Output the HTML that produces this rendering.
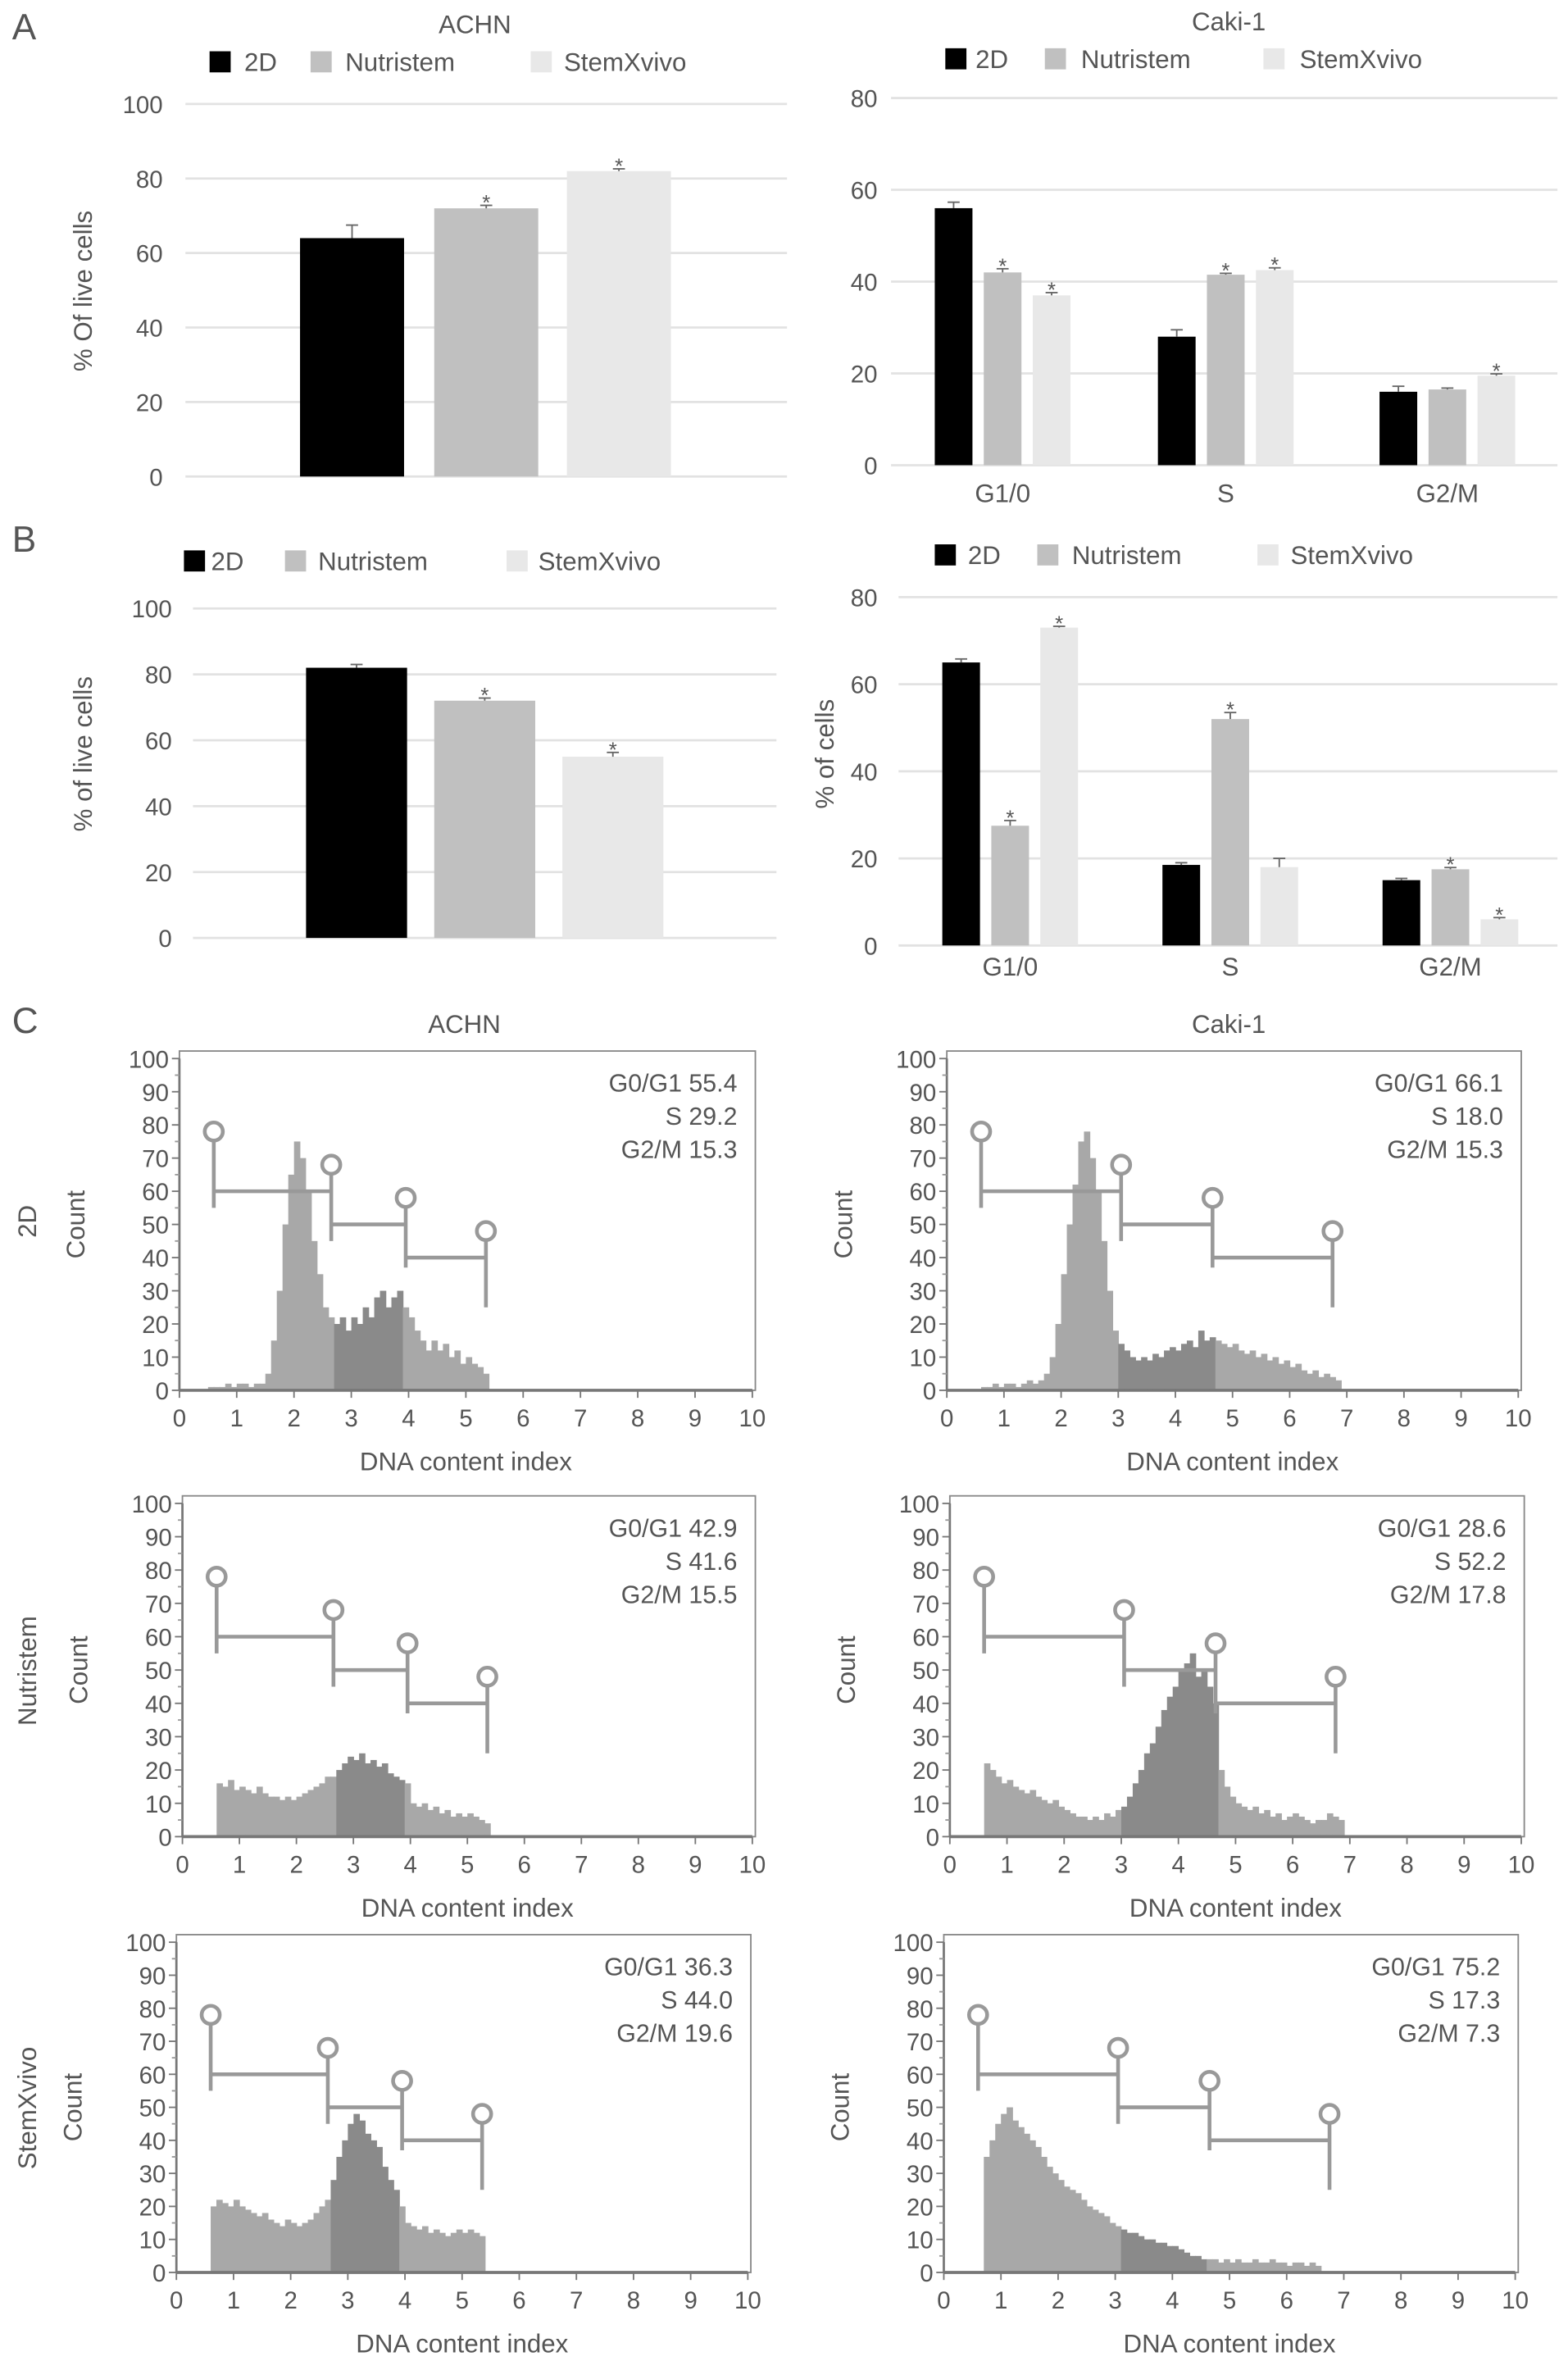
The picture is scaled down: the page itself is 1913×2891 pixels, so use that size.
<!DOCTYPE html>
<html><head><meta charset="utf-8"><style>
body{margin:0;background:#fff}
svg{display:block}
text{font-family:"Liberation Sans",sans-serif;fill:#555}
</style></head><body>
<svg id="fig" xmlns="http://www.w3.org/2000/svg" width="1913" height="2891" viewBox="0 0 1040 1571.7" preserveAspectRatio="none"></svg>
<script>
// ---------- Bar chart data ----------
const seriesNames = ["2D","Nutristem","StemXvivo"];
const phaseCats = ["G1/0","S","G2/M"];
const aAchnVals = [64,72,82];
const aAchnErr = [3.5,0.8,0.6];
const aAchnStar = [false,true,true];
const aCaki2D = [56,28,16];
const aCakiNut = [42,41.5,16.5];
const aCakiStem = [37,42.5,19.5];
const aCakiErr2D = [1.3,1.5,1.2];
const aCakiErrNut = [0.8,0.3,0.3];
const aCakiErrStem = [0.6,0.5,0.4];
const aCakiStarNut = [true,true,false];
const aCakiStarStem = [true,true,true];
const bAchnVals = [82,72,55];
const bAchnErr = [1,0.8,1.3];
const bAchnStar = [false,true,true];
const bCaki2D = [65,18.5,15];
const bCakiNut = [27.5,52,17.5];
const bCakiStem = [73,18,6];
const bCakiErr2D = [0.8,0.5,0.4];
const bCakiErrNut = [1.2,1.5,0.4];
const bCakiErrStem = [0.3,2,0.4];
const bCakiStarNut = [true,true,true];
const bCakiStarStem = [true,false,true];
const ticks100 = [0,20,40,60,80,100];
const ticks80 = [0,20,40,60,80];
// ---------- Histogram data (bin width 0.1, start index) ----------
const hAchn2DStart = 0.5;
const hAchn2D = [1,1,1,2,1,2,2,1,2,2,5,15,30,50,65,75,70,60,45,35,25,22,20,22,18,22,20,25,22,28,30,25,28,30,25,22,18,15,12,15,12,14,10,12,8,10,8,7,5];
const hCaki2DStart = 0.6;
const hCaki2D = [1,1,2,1,2,2,1,2,3,2,3,5,10,20,35,50,62,75,78,70,60,45,30,18,14,12,10,9,10,9,11,10,12,13,12,14,15,13,18,15,16,15,14,13,14,12,11,12,10,11,9,10,8,9,7,8,6,5,6,4,5,4,3];
const hAchnNutStart = 0.6;
const hAchnNut = [16,15,17,14,15,14,13,15,13,12,12,11,12,11,12,13,14,15,16,18,18,20,22,24,23,25,22,23,21,22,19,18,17,16,10,9,10,8,9,7,8,6,7,6,7,6,5,4];
const hCakiNutStart = 0.6;
const hCakiNut = [22,20,18,16,17,15,14,13,14,12,11,10,11,9,8,7,6,6,5,6,5,7,6,8,9,12,16,20,25,28,33,38,42,45,50,52,55,48,50,45,40,20,15,12,10,9,8,9,7,8,6,7,5,6,7,6,5,4,5,5,7,6,5];
const hAchnStemStart = 0.6;
const hAchnStem = [20,22,21,20,22,20,19,18,17,18,16,15,14,16,15,14,15,16,18,20,22,28,35,40,45,48,46,42,40,38,32,28,25,20,15,14,13,14,12,13,12,11,12,13,12,13,12,11];
const hCakiStemStart = 0.7;
const hCakiStem = [35,40,45,48,50,46,44,42,40,38,35,32,30,28,26,25,24,22,20,19,18,17,15,14,13,12,12,11,10,10,9,9,8,8,7,6,5,5,4,4,4,3,4,3,4,3,3,4,3,3,4,3,3,2,3,3,2,3,2];
const gatesAchn = [0.6,2.65,3.95,5.35];
const gatesCaki = [0.6,3.05,4.65,6.75];
const statsList = [["G0/G1 55.4","S 29.2","G2/M 15.3"],["G0/G1 66.1","S 18.0","G2/M 15.3"],["G0/G1 42.9","S 41.6","G2/M 15.5"],["G0/G1 28.6","S 52.2","G2/M 17.8"],["G0/G1 36.3","S 44.0","G2/M 19.6"],["G0/G1 75.2","S 17.3","G2/M 7.3"]];

const NS="http://www.w3.org/2000/svg";
const svg=document.getElementById('fig');
function el(tag,attrs,parent,txt){const e=document.createElementNS(NS,tag);for(const k in attrs)e.setAttribute(k,attrs[k]);if(txt!==undefined)e.textContent=txt;(parent||svg).appendChild(e);return e;}
const COLORS=["#000","#c0c0c0","#e8e8e8"];

function legend(y,pos,g){
  pos.forEach((p,i)=>{
    const r=el('rect',{x:p[0],y:y-8,width:14,height:14,fill:COLORS[i]},g);
    
    
    const t=el('text',{x:p[1],y:y+5,'font-size':17},g,seriesNames[i]);
    
    
  });
}
function yAxis(g,x0,x1,y0,y1,max,ticks,labX){
  const sy=v=>y0-(v/max)*(y0-y1);
  ticks.forEach(t=>{
    const l=el('line',{x1:x0,x2:x1,y1:sy(t),y2:sy(t),stroke:"#e2e2e2",'stroke-width':1.5},g);
     
    const tx=el('text',{x:labX,y:sy(t)+6,'font-size':16,'text-anchor':'end'},g,t);
     
  });
  return sy;
}
function bar(g,x,w,v,err,star,sy,col,name){
  const r=el('rect',{x:x,y:sy(v),width:w,height:sy(0)-sy(v),fill:col},g);
   
  const cx=x+w/2, ye=sy(v+err);
  el('line',{x1:cx,x2:cx,y1:sy(v),y2:ye,stroke:"#666"},g);
  el('line',{x1:cx-4,x2:cx+4,y1:ye,y2:ye,stroke:"#666"},g);
  if(star){const s=el('text',{x:cx,y:ye+3,'font-size':14,'text-anchor':'middle'},g,'*');
     }
}
function viabilityChart(name,vals,errs,stars,x0,x1,y0,y1,barX,barW,labX){
  const g=el('g',{});
  const sy=yAxis(g,x0,x1,y0,y1,100,ticks100,labX);
  vals.forEach((v,i)=>bar(g,barX[i],barW,v,errs[i],stars[i],sy,COLORS[i],'bar-'+seriesNames[i].toLowerCase()));
  return g;
}
function cycleChart(name,s2d,sn,ss,e2d,en,es,stn,sts,x0,x1,y0,y1,groupX,bw,gap,labX,catY){
  const g=el('g',{});
  const sy=yAxis(g,x0,x1,y0,y1,80,ticks80,labX);
  phaseCats.forEach((c,i)=>{
    const gx=groupX[i];
    bar(g,gx,bw,s2d[i],e2d[i],false,sy,COLORS[0],'bar-2d-'+c);
    bar(g,gx+gap,bw,sn[i],en[i],stn[i],sy,COLORS[1],'bar-nutristem-'+c);
    bar(g,gx+2*gap,bw,ss[i],es[i],sts[i],sy,COLORS[2],'bar-stemxvivo-'+c);
    const t=el('text',{x:gx+gap+bw/2,y:catY,'font-size':17,'text-anchor':'middle'},g,c);
    
  });
  return g;
}
// Panel labels
[['A',8,26],['B',8,366],['C',8,685]].forEach(p=>{const t=el('text',{x:p[1],y:p[2],'font-size':24},svg,p[0]);});

// Panel A
let t=el('text',{x:315,y:22,'font-size':17,'text-anchor':'middle'},svg,'ACHN');
t=el('text',{x:815,y:20,'font-size':17,'text-anchor':'middle'},svg,'Caki-1');
let lg=el('g',{});
legend(42,[[139,162],[206,229],[352,374]],lg);
lg=el('g',{});
legend(40,[[627,647],[693,717],[838,862]],lg);
viabilityChart('chart-a-achn',aAchnVals,aAchnErr,aAchnStar,123,522,316,69,[199,288,376],69,108);
t=el('text',{x:0,y:0,'font-size':17,'text-anchor':'middle',transform:'translate(61,193) rotate(-90)'},svg,'% Of live cells');
cycleChart('chart-a-caki',aCaki2D,aCakiNut,aCakiStem,aCakiErr2D,aCakiErrNut,aCakiErrStem,aCakiStarNut,aCakiStarStem,591,1033,308.5,65,[620,768,915],25,32.5,582,333);

// Panel B
lg=el('g',{});
legend(373,[[122,140],[189,211],[336,357]],lg);
lg=el('g',{});
legend(369,[[620,642],[688,711],[834,856]],lg);
viabilityChart('chart-b-achn',bAchnVals,bAchnErr,bAchnStar,128,515,622,403.5,[203,288,373],67,114);
t=el('text',{x:0,y:0,'font-size':17,'text-anchor':'middle',transform:'translate(61,500) rotate(-90)'},svg,'% of live cells');
cycleChart('chart-b-caki',bCaki2D,bCakiNut,bCakiStem,bCakiErr2D,bCakiErrNut,bCakiErrStem,bCakiStarNut,bCakiStarStem,596,1033,627,396,[625,771,917],25,32.5,582,647);
t=el('text',{x:0,y:0,'font-size':17,'text-anchor':'middle',transform:'translate(553,500) rotate(-90)'},svg,'% of cells');

// Panel C
t=el('text',{x:308,y:685,'font-size':17,'text-anchor':'middle'},svg,'ACHN');
t=el('text',{x:815,y:685,'font-size':17,'text-anchor':'middle'},svg,'Caki-1');
const rowNames=['2D','Nutristem','StemXvivo'];
const rowCenters=[810,1108,1398];
rowNames.forEach((r,i)=>{const tt=el('text',{x:0,y:0,'font-size':17,'text-anchor':'middle',transform:`translate(24,${rowCenters[i]}) rotate(-90)`},svg,r);});

function histogram(name,data,start,gates,stats,xa,xb,ya,yb){
  const g=el('g',{});
  const sx=v=>xa+v/10*(xb-xa), sy=v=>ya-v/100*(ya-yb);
  el('rect',{x:xa,y:yb-5,width:xb-xa+2,height:ya-yb+5,fill:'none',stroke:'#888','stroke-width':1},g);
  // bars
  data.forEach((v,i)=>{
    const x=start+i*0.1;
    const inS = x+0.05>gates[1] && x+0.05<gates[2];
    const r=el('rect',{x:sx(x),y:sy(v),width:sx(0.1)-sx(0)+0.4,height:sy(0)-sy(v),fill:inS?'#8a8a8a':'#a8a8a8'},g);
     
  });
  el('line',{x1:xa,x2:xb,y1:ya,y2:ya,stroke:'#777','stroke-width':2},g);
  el('line',{x1:xa,x2:xa,y1:ya,y2:yb,stroke:'#777','stroke-width':1.5},g);
  for(let k=0;k<=100;k+=10){
    el('line',{x1:xa-5,x2:xa,y1:sy(k),y2:sy(k),stroke:'#777'},g);
    if(k<100) el('line',{x1:xa-3,x2:xa,y1:sy(k+5),y2:sy(k+5),stroke:'#999'},g);
    const tx=el('text',{x:xa-7,y:sy(k)+6,'font-size':16,'text-anchor':'end'},g,k);
    
  }
  for(let k=0;k<=10;k++){
    el('line',{x1:sx(k),x2:sx(k),y1:ya,y2:ya+5,stroke:'#777'},g);
    const tx=el('text',{x:sx(k),y:ya+24,'font-size':16,'text-anchor':'middle'},g,k);
    
  }
  let tx=el('text',{x:(xa+xb)/2,y:ya+53,'font-size':17,'text-anchor':'middle'},g,'DNA content index');
  
  tx=el('text',{x:0,y:0,'font-size':17,'text-anchor':'middle',transform:`translate(${xa-63},${(ya+yb)/2}) rotate(-90)`},g,'Count');
  
  stats.forEach((s,i)=>{const st=el('text',{x:xb-10,y:yb+22+i*22,'font-size':16.5,'text-anchor':'end'},g,s);});
  // gates
  const gl=[60,50,40], circ=[78,68,58,48], vb=[55,45,37,25];
  for(let k=0;k<3;k++){
    const ln=el('line',{x1:sx(gates[k]),x2:sx(gates[k+1]),y1:sy(gl[k]),y2:sy(gl[k]),stroke:'#999','stroke-width':2.5},g);
    
  }
  for(let k=0;k<4;k++){
    el('line',{x1:sx(gates[k]),x2:sx(gates[k]),y1:sy(circ[k])+6,y2:sy(vb[k]),stroke:'#999','stroke-width':2.5},g);
    const c=el('circle',{cx:sx(gates[k]),cy:sy(circ[k]),r:6,fill:'#fff',stroke:'#999','stroke-width':2.5},g);
    
  }
}
histogram('hist-achn-2d',hAchn2D,hAchn2DStart,gatesAchn,statsList[0],119,499,922,702);
histogram('hist-caki-2d',hCaki2D,hCaki2DStart,gatesCaki,statsList[1],628,1007,922,702);
histogram('hist-achn-nutristem',hAchnNut,hAchnNutStart,gatesAchn,statsList[2],121,499,1218,997);
histogram('hist-caki-nutristem',hCakiNut,hCakiNutStart,gatesCaki,statsList[3],630,1009,1218,997);
histogram('hist-achn-stemxvivo',hAchnStem,hAchnStemStart,gatesAchn,statsList[4],117,496,1507,1288);
histogram('hist-caki-stemxvivo',hCakiStem,hCakiStemStart,gatesCaki,statsList[5],626,1005,1507,1288);
</script>
</body></html>
